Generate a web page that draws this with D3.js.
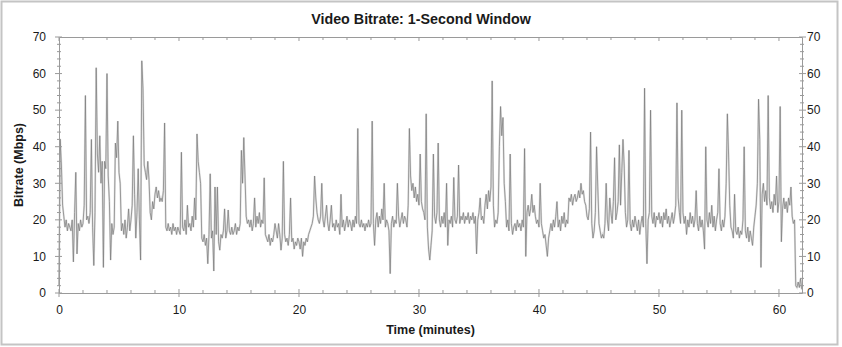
<!DOCTYPE html>
<html>
<head>
<meta charset="utf-8">
<script src="https://cdn.jsdelivr.net/npm/d3@7/dist/d3.min.js"></script>
<style>
  body { margin: 0; background: #fff; }
  text { font-family: "Liberation Sans", Arial, sans-serif; fill: #1a1a1a; }
</style>
</head>
<body>
<svg id="chart" width="842" height="347"></svg>
<script>
// one sample every 0.1 minute, values in Mbps
var sampleStep = 0.1

var bitrate00 = [
  2, 42, 35, 24, 21, 18, 20, 17, 19, 18,
  17, 20, 8.5, 22, 33, 10.7, 19, 17, 20, 18,
  19, 24, 54, 20, 21, 19, 22, 42, 18, 7.5,
  22, 61.6, 38, 33, 43, 30, 36, 7, 36, 34,
  60, 32, 25, 9, 19, 16, 18, 41, 37, 47,
  33, 30, 17, 19, 16, 20, 15, 18, 23, 17,
  20, 24, 43, 27, 15, 22, 34, 20, 9, 63.5,
  55.8, 35, 33, 31, 36, 31, 22, 20, 25, 23,
  27, 29, 26, 28, 25, 26, 25, 28, 46.5, 18,
  17, 19, 17, 18, 16, 19, 17, 18, 16, 18
]
var bitrate10 = [
  17, 16, 38.5, 18, 17, 20, 16, 24, 18, 19,
  17, 21, 18, 26, 20, 43.5, 36, 33, 30, 15,
  14, 16, 13, 15, 8, 16, 32.6, 15, 17, 6,
  29, 16, 29, 14, 11.7, 16, 15, 17, 23, 15,
  17, 22.7, 17, 16, 18, 16, 17, 19, 16, 18,
  17, 19, 39, 30, 42.5, 32, 21, 19, 20, 18,
  20, 17, 19, 26, 18, 21, 19, 22, 18, 20,
  19, 31.5, 16, 15, 14, 16, 13, 15, 14, 16,
  19, 17, 15, 19, 16, 11.7, 15, 36, 16, 14,
  15, 13, 16, 26, 14, 15, 12, 14, 13, 15
]
var bitrate20 = [
  14, 12, 15, 10, 14, 13, 15, 14, 16, 17,
  18, 19, 21, 32, 26, 22, 20, 19, 21, 30,
  20, 18, 21, 24, 19, 17, 20, 24, 18, 19,
  17, 20, 18, 19, 16, 27, 18, 20, 17, 19,
  21, 18, 20, 19, 17, 20, 18, 21, 19, 45,
  19, 18, 20, 18, 19, 17, 19, 18, 20, 18,
  19, 47, 19, 13, 20, 22, 18, 21, 19, 23,
  20, 30, 18, 20, 19, 17, 5.3, 19, 21, 18,
  20, 19, 30, 21, 18, 20, 22, 19, 21, 20,
  18, 24, 45, 32, 28, 30, 26, 29, 25, 27
]
var bitrate30 = [
  24, 38, 25, 23, 22, 20, 49, 18, 12, 9,
  13, 17, 38, 21, 19, 22, 41, 20, 18, 21,
  19, 22, 18, 30, 13, 20, 19, 21, 18, 31.6,
  20, 19, 21, 35, 19, 21, 20, 22, 19, 21,
  20, 22, 19, 21, 20, 22, 19, 21, 10.7, 20,
  22, 26, 20, 21, 19, 24, 27, 23, 28, 25,
  29, 58, 24, 18, 20, 19, 22, 40, 51, 43,
  48, 30, 25, 18, 20, 17, 38, 19, 16, 18,
  19, 17, 20, 18, 19, 17, 20, 18, 39.5, 10,
  22, 24, 21, 23, 27, 22, 24, 21, 19, 20
]
var bitrate40 = [
  18, 30, 19, 17, 15, 16, 13, 10, 15, 17,
  19, 17, 20, 18, 21, 25, 18, 20, 17, 21,
  19, 22, 18, 20, 19, 26, 25, 27, 24, 26,
  27, 25, 26, 28, 26, 30, 27, 28, 25, 24,
  21, 20, 23, 44, 19, 15, 17, 22, 40, 29,
  19, 17, 15, 16, 15, 19, 30, 20, 17, 26,
  22, 19, 25, 37, 20, 22, 25, 40.5, 24, 33,
  42, 35, 22, 18, 20, 39, 19, 17, 20, 18,
  21, 19, 17, 20, 16, 19, 21, 18, 56, 19,
  8, 20, 22, 50, 21, 19, 22, 18, 21, 20
]
var bitrate50 = [
  22, 19, 21, 18, 22, 20, 23, 19, 21, 18,
  20, 22, 19, 21, 24, 52, 26, 22, 19, 50,
  22, 19, 21, 16, 20, 18, 22, 19, 21, 18,
  20, 28, 19, 17, 21, 18, 20, 17, 12, 40,
  20, 18, 22, 19, 24, 18, 21, 17, 20, 22,
  34, 19, 17, 20, 18, 21, 30, 49, 38, 24,
  18, 17, 15, 27, 17, 16, 18, 15, 17, 16,
  20, 40, 17, 15, 18, 14, 17, 15, 13, 18,
  21, 24, 30, 53, 42, 7, 27, 30, 25, 28,
  24, 54, 26, 23, 25, 22, 27, 24, 32, 22
]
var bitrate60 = [
  25, 51, 14, 23, 26, 23, 25, 22, 26, 24,
  29, 21, 19, 20, 2, 1.5, 3, 1.5, 4, 1
]

var yTicks = [0, 10, 20, 30, 40, 50, 60, 70]
var xTicks = [0, 10, 20, 30, 40, 50, 60]
var timeMax = 61.92

var samples = [].concat(bitrate00, bitrate10, bitrate20, bitrate30, bitrate40, bitrate50, bitrate60)
    .map((v, i) => ({ t: i * sampleStep, v: v }))

var svg = d3.select('#chart')
var plotL = 59, plotR = 802, plotT = 37, plotB = 293

var xScale = d3.scaleLinear().domain([0, timeMax]).range([plotL, plotR])
var yScale = d3.scaleLinear().domain([0, 70]).range([plotB, plotT])

// outer frame
svg.append('rect').attr('x', 1.5).attr('y', 1.5).attr('width', 836).attr('height', 343)
    .attr('fill', 'none').attr('stroke', '#c4c4c4').attr('stroke-width', 2)

// data line: a soft wide pass, then the darker trace
var line = d3.line().x(d => xScale(d.t)).y(d => yScale(d.v))
svg.append('path').datum(samples).attr('d', line)
    .attr('fill', 'none').attr('stroke', '#e0e0e0').attr('stroke-width', 2)
svg.append('path').datum(samples).attr('d', line)
    .attr('fill', 'none').attr('stroke', '#7a7a7a').attr('stroke-width', 0.7)

var axisColor = '#9a9a9a'

// axes with labels
var xAxis = d3.axisBottom(xScale).tickValues(xTicks).tickSize(0).tickPadding(12)
var yLeft = d3.axisLeft(yScale).tickValues(yTicks).tickSize(0).tickPadding(13)
var yRight = d3.axisRight(yScale).tickValues(yTicks).tickSize(0).tickPadding(5)
var xTop = d3.axisTop(xScale).tickValues([]).tickSize(0)

svg.append('g').attr('transform', 'translate(0,' + plotB + ')').call(xAxis)
svg.append('g').attr('transform', 'translate(0,' + plotT + ')').call(xTop)
svg.append('g').attr('transform', 'translate(' + plotL + ',0)').call(yLeft)
svg.append('g').attr('transform', 'translate(' + plotR + ',0)').call(yRight)

svg.selectAll('.domain').attr('stroke', axisColor)
svg.selectAll('.tick text').attr('font-size', 12).attr('fill', '#1a1a1a')
    .style('font-family', '"Liberation Sans", Arial, sans-serif')

// tick marks: minor every 2, major every 10
var yMinor = d3.range(0, 71, 2)
var xMinor = d3.range(0, timeMax, 2)
var tg = svg.append('g').attr('stroke', axisColor).attr('stroke-width', 1)

tg.selectAll('.yl').data(yMinor).enter().append('line')
    .attr('x1', d => plotL - (d % 10 ? 2 : 4)).attr('x2', d => plotL + (d % 10 ? 2 : 3))
    .attr('y1', d => yScale(d)).attr('y2', d => yScale(d))
tg.selectAll('.yr').data(yMinor).enter().append('line')
    .attr('x1', d => plotR - (d % 10 ? 2 : 3)).attr('x2', d => plotR + (d % 10 ? 2 : 4))
    .attr('y1', d => yScale(d)).attr('y2', d => yScale(d))
tg.selectAll('.xb').data(xMinor).enter().append('line')
    .attr('x1', d => xScale(d)).attr('x2', d => xScale(d))
    .attr('y1', d => plotB - (d % 10 ? 3 : 4)).attr('y2', d => plotB + (d % 10 ? 0 : 4))
tg.selectAll('.xt').data(xMinor).enter().append('line')
    .attr('x1', d => xScale(d)).attr('x2', d => xScale(d))
    .attr('y1', plotT).attr('y2', d => plotT + (d % 10 ? 3 : 4))

// titles
svg.append('text').attr('x', 421).attr('y', 24)
    .attr('text-anchor', 'middle').attr('font-size', 14.3).attr('font-weight', 'bold')
    .text('Video Bitrate: 1-Second Window')
svg.append('text').attr('x', (plotL + plotR) / 2).attr('y', 334)
    .attr('text-anchor', 'middle').attr('font-size', 12.5).attr('font-weight', 'bold')
    .text('Time (minutes)')
svg.append('text').attr('transform', 'translate(23,' + (plotT + plotB) / 2 + ') rotate(-90)')
    .attr('text-anchor', 'middle').attr('font-size', 12.5).attr('font-weight', 'bold')
    .text('Bitrate (Mbps)')
</script>
</body>
</html>
